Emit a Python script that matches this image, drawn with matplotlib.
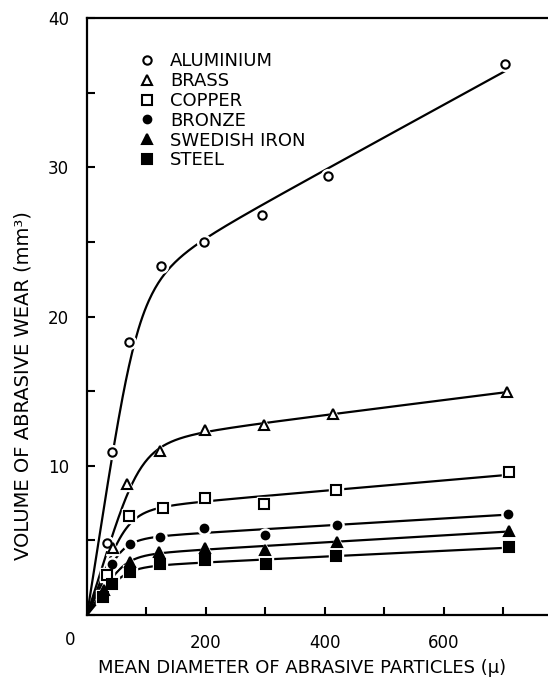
import numpy as np
import matplotlib
matplotlib.use("Agg")
import matplotlib.pyplot as plt

# values
names = ["ALUMINIUM", "BRASS", "COPPER", "BRONZE", "SWEDISH IRON", "STEEL"]

al_x = [33, 42, 70, 125, 197, 295, 405, 703]
al_y = [4.8, 10.9, 18.3, 23.4, 25.0, 26.8, 29.4, 36.9]

brass_x = [43, 67, 123, 199, 298, 414, 706]
brass_y = [4.5, 8.8, 11.0, 12.4, 12.7, 13.5, 14.95]

cu_x = [33, 70, 128, 198, 298, 418, 709]
cu_y = [2.7, 6.6, 7.15, 7.85, 7.45, 8.35, 9.55]

bronze_x = [42, 72, 123, 197, 299, 421, 708]
bronze_y = [3.4, 4.75, 5.2, 5.85, 5.35, 6.05, 6.8]

fe_x = [28, 72, 121, 199, 300, 420, 710]
fe_y = [1.7, 3.55, 4.25, 4.5, 4.35, 4.92, 5.66]

steel_x = [27, 42, 72, 123, 198, 301, 418, 710]
steel_y = [1.2, 2.05, 2.85, 3.4, 3.7, 3.4, 3.96, 4.58]

xs_all = [al_x, brass_x, cu_x, bronze_x, fe_x, steel_x]
ys_all = [al_y, brass_y, cu_y, bronze_y, fe_y, steel_y]
markers = ["o", "^", "s", "o", "^", "s"]
filled = [False, False, False, True, True, True]


def fit_curve(x, y):
    # smooth saturating curve through the origin, least squares
    x = np.r_[0.0, np.asarray(x, float)]
    y = np.r_[0.0, np.asarray(y, float)]
    best = None
    for p in (1.0, 1.5, 2.0, 3.0, 4.0):
        for t in np.linspace(10, 250, 241):
            M = np.c_[x / (t**p + x**p) ** (1 / p), x]
            coef = np.linalg.lstsq(M, y, rcond=None)[0]
            sse = ((M @ coef - y) ** 2).sum()
            if best is None or sse < best[0]:
                best = (sse, p, t, coef)
    _, p, t, coef = best
    return lambda q: coef[0] * q / (t**p + q**p) ** (1 / p) + coef[1] * q


plt.rcParams["font.family"] = "DejaVu Sans"
fig = plt.figure(figsize=(5.48, 6.78), dpi=100)
ax = fig.add_axes([87 / 548, 63 / 678, 461 / 548, 597 / 678])

handles = []
for x, y, m, f, name in zip(xs_all, ys_all, markers, filled, names):
    q = np.linspace(0, max(x), 400)
    ax.plot(q, fit_curve(x, y)(q), color="black", lw=1.6, zorder=2)
    ms = 6.5 if m != "o" else 6
    if f and m == "o":
        ms = 5.5
    ax.plot(x, y, ls="none", marker=m, ms=ms + 4, mfc="white", mec="white", zorder=3)
    h, = ax.plot(x, y, ls="none", marker=m, ms=ms, mfc="black" if f else "white",
                 mec="black", mew=1.5, zorder=4, label=name)
    handles.append(h)

ax.set_xlim(0, 775)
ax.set_ylim(0, 40)

ax.set_xticks(range(100, 800, 100))
ax.set_xticklabels(["", "200", "", "400", "", "600", ""])
ax.set_yticks(range(0, 45, 5))
ax.set_yticklabels(["", "", "10", "", "20", "", "30", "", "40"])
ax.tick_params(direction="in", length=6, width=1.5, labelsize=12)
ax.tick_params(axis="x", pad=13.5)
ax.tick_params(axis="y", pad=13)
ax.text(-28, -1.68, "0", fontsize=12, ha="center", va="center")

for s in ["left", "bottom", "top"]:
    ax.spines[s].set_linewidth(1.6)
ax.spines["right"].set_visible(False)

ax.set_xlabel("MEAN DIAMETER OF ABRASIVE PARTICLES (\u03bc)", fontsize=13)
ax.xaxis.set_label_coords(0.467, -0.0737)
ax.set_ylabel("VOLUME OF ABRASIVE WEAR (mm\u00b3)", fontsize=14)
ax.yaxis.set_label_coords(-0.118, 0.384)

ax.legend(handles=handles, loc="upper left", bbox_to_anchor=(0.112, 0.9425),
          frameon=False, fontsize=13, handlelength=0.95, handletextpad=0.78,
          labelspacing=0.1, borderpad=0, borderaxespad=0)

fig.savefig("out.png", dpi=100)
